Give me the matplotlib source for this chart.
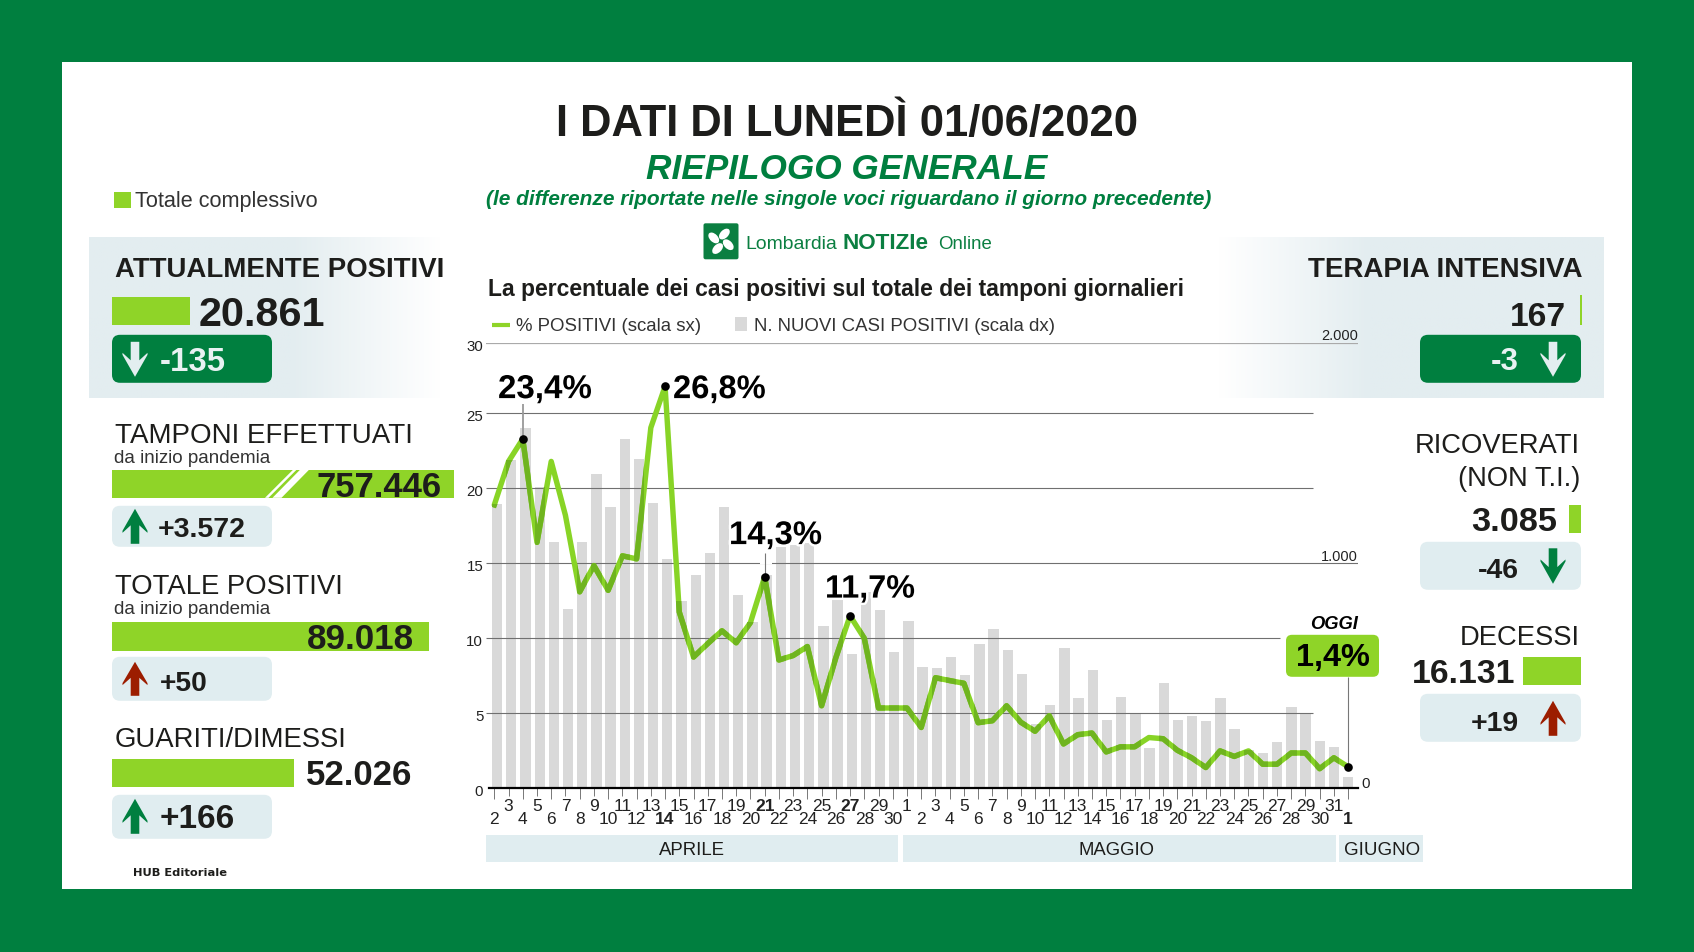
import numpy as np
import matplotlib
matplotlib.use("Agg")
import matplotlib.pyplot as plt
import matplotlib.patheffects as pe
from matplotlib.colors import LinearSegmentedColormap
from matplotlib.patches import Rectangle, FancyBboxPatch, Polygon, Ellipse, Circle
from matplotlib.transforms import ScaledTranslation

plt.rcParams['font.family'] = ['Liberation Sans', 'DejaVu Sans']

# ------------------------------ data ------------------------------
day_labels = ['2','3','4','5','6','7','8','9','10','11','12','13','14','15','16','17','18','19','20','21',
              '22','23','24','25','26','27','28','29','30',
              '1','2','3','4','5','6','7','8','9','10','11','12','13','14','15','16','17','18','19','20','21',
              '22','23','24','25','26','27','28','29','30','31','1']
pct_positive = [18.9,21.8,23.3,16.4,21.8,18.2,13.1,14.85,13.2,15.5,15.3,24.05,26.8,11.75,8.75,9.65,10.5,9.7,11.05,14.1,
                8.55,8.85,9.45,5.5,8.7,11.5,10.0,5.35,5.35,
                5.35,4.05,7.37,7.18,7.0,4.37,4.5,5.5,4.4,3.8,4.83,2.95,3.57,3.68,2.42,2.76,2.76,3.38,3.3,2.53,2.03,
                1.38,2.49,2.12,2.49,1.6,1.6,2.35,2.35,1.3,2.03,1.43]
new_cases = [1265,1462,1608,1343,1098,800,1097,1400,1255,1555,1469,1272,1020,834,949,1049,1255,863,742,950,
             1077,1083,1092,723,854,597,877,795,606,
             745,542,535,585,506,642,708,618,511,285,372,623,400,529,306,406,331,180,469,303,323,
             298,403,265,170,155,208,363,331,212,183,50]
left_tick_values = [0,5,10,15,20,25,29.7]
left_tick_labels = ['0','5','10','15','20','25','30']
bold_days = [12,19,25,60]
callouts = [(2,'23,4%'),(12,'26,8%'),(19,'14,3%'),(25,'11,7%')]
months = ['APRILE','MAGGIO','GIUGNO']

# ------------------------------ style ------------------------------
W, H = 1694, 953
GREEN = '#007F3F'; LIME = '#8FD428'; DARK = '#1D1D1B'; LIGHT = '#E0EDF0'; RED = '#9C1D00'
fig = plt.figure(figsize=(W/100, H/100), dpi=100, facecolor=GREEN)
renderer = fig.canvas.get_renderer()
SHIFT = 0.8

def full_axes(z):
    a = fig.add_axes([0,0,1,1], zorder=z)
    a.set_xlim(0,W); a.set_ylim(H-SHIFT,-SHIFT); a.axis('off'); a.patch.set_alpha(0)
    return a
bg = full_axes(0); fg = full_axes(6)

def put(a, s, x0, x1, y, weight='normal', style='normal', color=DARK, family=None, halo=False):
    t = a.text(x0, y-1.2, s, ha='left', va='baseline', fontsize=20, fontweight=weight, fontstyle=style, color=color)
    if family: t.set_fontfamily(family)
    w = t.get_window_extent(renderer).width
    t.set_fontsize(20*(x1-x0)/w)
    if halo:
        t.set_path_effects([pe.withStroke(linewidth=3.5, foreground='white')])
    return t

def rect(a, x0, y0, x1, y1, color, **k):
    a.add_patch(Rectangle((x0,y0), x1-x0, y1-y0, facecolor=color, edgecolor='none', **k))

def rbox(a, x0, y0, x1, y1, color, r=8):
    a.add_patch(FancyBboxPatch((x0+r,y0+r), x1-x0-2*r, y1-y0-2*r, boxstyle=f'round,pad={r},rounding_size={r}',
                               facecolor=color, edgecolor='none'))

def arrow(a, cx, ytop, ybot, color, up=True):
    h = ybot-ytop
    pts = np.array([(0,0),(12.5,22),(12.5,24),(4.3,16.5),(4.3,35),(-4.3,35),(-4.3,16.5),(-12.5,24),(-12.5,22)], float)
    pts[:,1] *= h/35
    if up:
        xy = np.c_[cx+pts[:,0], ytop+pts[:,1]]
    else:
        xy = np.c_[cx+pts[:,0], ybot-pts[:,1]]
    a.add_patch(Polygon(xy, closed=True, facecolor=color, edgecolor='none'))

# ------------------------------ background ------------------------------
rect(bg, 62, 62, 1632, 889, 'white', zorder=1)
xs = np.linspace(0,1,800)
px = 89 + xs*(1604-89)
grad = np.interp(px, [89,290,440,1220,1370,1604], [1,1,0,0,1,1])
cmap = LinearSegmentedColormap.from_list('g', ['#FFFFFF','#E3EDF0'])
bg.imshow(grad[None,:], extent=(89,1604,398,237), aspect='auto', cmap=cmap, vmin=0, vmax=1,
          interpolation='bilinear', zorder=2)
bg.set_xlim(0,W); bg.set_ylim(H-SHIFT,-SHIFT)

# ------------------------------ heading ------------------------------
put(fg, 'I DATI DI LUNEDÌ 01/06/2020', 556.5, 1139, 136.7, weight='bold')
put(fg, 'RIEPILOGO GENERALE', 646, 1048, 179, weight='bold', style='italic', color=GREEN)
put(fg, '(le differenze riportate nelle singole voci riguardano il giorno precedente)', 486, 1212, 205, weight='bold', style='italic', color=GREEN)
rect(fg, 114, 192, 131, 208, LIME)
put(fg, 'Totale complessivo', 135, 318, 207.5, color='#333333')
# logo
rbox(fg, 703.5, 223.5, 738.5, 259.5, '#0B7F41', r=2)
lc = (721, 241.5)
for ang in (25,115,205,295):
    d = np.deg2rad(ang)
    fg.add_patch(Ellipse((lc[0]+8*np.cos(d), lc[1]+8*np.sin(d)), 13, 8, angle=ang+20, facecolor='white', edgecolor='none'))
put(fg, 'Lombardia', 745, 836, 249, color='#0B7F41')
put(fg, 'NOTIZIe', 843, 929, 249, weight='bold', color='#0B7F41')
put(fg, 'Online', 938, 992, 249, color='#0B7F41')
put(fg, 'La percentuale dei casi positivi sul totale dei tamponi giornalieri', 488, 1185, 296, weight='bold')
fg.plot([492,510],[325,325], color=LIME, lw=3, solid_capstyle='butt')
put(fg, '% POSITIVI (scala sx)', 516, 701, 331.5, color='#333333')
rect(fg, 735, 317, 747, 331, '#D9D9D9')
put(fg, 'N. NUOVI CASI POSITIVI (scala dx)', 754, 1055, 331.5, color='#333333')

# ------------------------------ left panels ------------------------------
put(fg, 'ATTUALMENTE POSITIVI', 115, 444, 277, weight='bold')
rect(fg, 112, 297, 190, 325, LIME)
put(fg, '20.861', 199, 326, 326, weight='bold')
rbox(fg, 112, 335, 272, 383, GREEN)
arrow(fg, 135, 342, 377, '#E3EEF0', up=False)
put(fg, '-135', 160, 226, 371, weight='bold', color='#E8F2F2')

put(fg, 'TAMPONI EFFETTUATI', 115, 412, 443)
put(fg, 'da inizio pandemia', 114, 270, 463, color='#333333')
rect(fg, 112, 470, 454, 498, LIME)
fg.add_patch(Polygon([(265,498),(293,470),(296.5,470),(268.5,498)], facecolor='white', edgecolor='none'))
fg.add_patch(Polygon([(272.5,498),(300,470),(309,470),(281.5,498)], facecolor='white', edgecolor='none'))
put(fg, '757.446', 317, 443, 497, weight='bold')
rbox(fg, 112, 506, 272, 547, LIGHT)
arrow(fg, 135, 509, 544, GREEN)
put(fg, '+3.572', 158, 246, 537, weight='bold')

put(fg, 'TOTALE POSITIVI', 115, 343, 594)
put(fg, 'da inizio pandemia', 114, 270, 614, color='#333333')
rect(fg, 112, 622, 429, 651, LIME)
put(fg, '89.018', 307, 414, 649, weight='bold')
rbox(fg, 112, 657, 272, 701, LIGHT)
arrow(fg, 135, 662, 696, RED)
put(fg, '+50', 160, 208, 691, weight='bold')

put(fg, 'GUARITI/DIMESSI', 115, 347, 747)
rect(fg, 112, 759, 294, 787, LIME)
put(fg, '52.026', 306, 413, 785, weight='bold')
rbox(fg, 112, 795, 272, 839, LIGHT)
arrow(fg, 135, 799, 834, GREEN)
put(fg, '+166', 160, 235, 828, weight='bold')
put(fg, 'HUB Editoriale', 133, 227, 876, weight='bold', family='DejaVu Sans')

# ------------------------------ right panels ------------------------------
put(fg, 'TERAPIA INTENSIVA', 1308, 1582, 277, weight='bold')
put(fg, '167', 1510, 1566, 326, weight='bold')
rect(fg, 1580, 295, 1581.5, 325, LIME)
rbox(fg, 1420, 335, 1581, 383, GREEN)
put(fg, '-3', 1491, 1519, 370.5, weight='bold', color='#E8F2F2')
arrow(fg, 1553, 342, 377, '#E3EEF0', up=False)

put(fg, 'RICOVERATI', 1415, 1580, 453)
put(fg, '(NON T.I.)', 1458, 1580, 486.5)
put(fg, '3.085', 1471, 1557, 531, weight='bold')
rect(fg, 1569, 505, 1581, 533, LIME)
rbox(fg, 1420, 542, 1581, 590, LIGHT)
put(fg, '-46', 1478, 1519, 578.5, weight='bold')
arrow(fg, 1553, 548.5, 584, GREEN, up=False)

put(fg, 'DECESSI', 1460, 1580, 645)
put(fg, '16.131', 1412, 1515, 683, weight='bold')
rect(fg, 1523, 657, 1581, 685, LIME)
rbox(fg, 1420, 694, 1581, 742, LIGHT)
put(fg, '+19', 1471, 1519, 731, weight='bold')
arrow(fg, 1553, 701, 736, RED)

# ------------------------------ chart ------------------------------
L, R, T, B = 486, 1358, 344, 789.2
X0, DX = 494.3, 14.23
tox = lambda p: (p-X0)/DX
days = np.arange(len(day_labels))
rect_ax = [L/W, 1-B/H, (R-L)/W, (B-T)/H]
axb = fig.add_axes(rect_ax, zorder=2); axb.patch.set_alpha(0)
axl = fig.add_axes(rect_ax, zorder=3); axl.patch.set_alpha(0)
for a in (axb, axl):
    a.set_xlim(tox(L), tox(R))
    for s in a.spines.values(): s.set_visible(False)
axb.set_ylim(0, 1985)
axl.set_ylim(0, 29.7)
axb.set_yticks([]); axb.set_xticks([])

# bars sit on a scale of their own, drifting slightly from the line's
bar_x = days + 0.2*(1-days/days[-1])
bars = axb.bar(bar_x, new_cases, width=0.725, color='#D9D9D9', linewidth=0)

grid_ends = {5:1313, 10:1280, 15:1358, 20:1313, 25:1313, 29.7:1358}
for v, e in grid_ends.items():
    top = v == 29.7
    axl.hlines(v, tox(L), tox(e), color='#AAAAAA' if top else '#707070', lw=1.6 if top else 0.8, zorder=1.5)
axl.hlines(15, tox(760), tox(772), color='white', lw=1.6, zorder=1.6)

axl.spines['bottom'].set_visible(True)
axl.spines['bottom'].set_bounds(tox(489), tox(R))
axl.spines['bottom'].set_linewidth(1.6)
axl.spines['bottom'].set_color('black')

axl.set_yticks(left_tick_values, left_tick_labels, fontsize=10.8, color='#222222')
axl.tick_params(axis='y', length=0, pad=2)
for lab in axl.get_yticklabels():
    lab.set_transform(lab.get_transform()+ScaledTranslation(0,-1.5/100,fig.dpi_scale_trans))

axl.set_xticks(days[::2], [day_labels[i] for i in days[::2]], fontsize=12.5, color='#222222')
axl.set_xticks(days[1::2], [day_labels[i] for i in days[1::2]], minor=True, fontsize=12.5, color='#222222')
axl.tick_params(axis='x', which='major', length=8, width=0.7, color='#777777', pad=8.5)
axl.tick_params(axis='x', which='minor', length=6, width=0.7, color='#777777', pad=1.2)
for i, lab in zip(days[::2], axl.get_xticklabels()):
    if i in bold_days: lab.set_fontweight('bold')
for i, lab in zip(days[1::2], axl.get_xticklabels(minor=True)):
    if i in bold_days: lab.set_fontweight('bold')

ln = axl.plot(days, pct_positive, color='#88D426', lw=3.9, solid_joinstyle='round', solid_capstyle='round', zorder=2)[0]
for b in bars:
    d = axl.plot(days, pct_positive, color='#6FB41F', lw=3.9, solid_joinstyle='round', zorder=2.1)[0]
    d.set_clip_path(b)

mark_idx = [c[0] for c in callouts]+[days[-1]]
axl.plot(days[mark_idx], np.array(pct_positive)[mark_idx], 'o', color='black', ms=6.2, mew=0, zorder=4)
axl.vlines(2, pct_positive[2], 25.6, color='#999999', lw=1.3, zorder=1.8)
axl.vlines(19, pct_positive[19], 15.7, color='#777777', lw=0.8, zorder=1.8)
axl.vlines(60, pct_positive[60], 7.4, color='#777777', lw=0.8, zorder=1.8, clip_on=False)

# right scale labels
for value, label in ((1000,'1.000'),(1985,'2.000')):
    t = axb.text(tox(R), value, label, ha='right', va='bottom', fontsize=10.5, color='#222222')
    t.set_transform(t.get_transform()+ScaledTranslation(0,1/100,fig.dpi_scale_trans))
axb.text(tox(1361), 22, '0', ha='left', va='center', fontsize=10.8, color='#222222')

# callouts
put(fg, callouts[0][1], 498, 592, 399.5, weight='bold', color='black', halo=True)
put(fg, callouts[1][1], 673, 766, 399.5, weight='bold', color='black', halo=True)
put(fg, callouts[2][1], 729, 822, 545.5, weight='bold', color='black', halo=True)
put(fg, callouts[3][1], 825, 915, 599, weight='bold', color='black', halo=True)
put(fg, 'OGGI', 1310, 1358, 629, weight='bold', style='italic', color='black')
rbox(fg, 1286, 635, 1379, 677, LIME, r=6)
put(fg, '1,4%', 1296, 1370, 666, weight='bold', color='black')

# month strip
rect(fg, 486, 835, 898, 862, LIGHT)
rect(fg, 903, 835, 1336, 862, LIGHT)
rect(fg, 1339, 835, 1423, 862, LIGHT)
put(fg, months[0], 659, 725, 855.5)
put(fg, months[1], 1079, 1155, 855.5)
put(fg, months[2], 1344, 1420, 855.5)

fig.savefig('out.png', dpi=100, facecolor=GREEN)
